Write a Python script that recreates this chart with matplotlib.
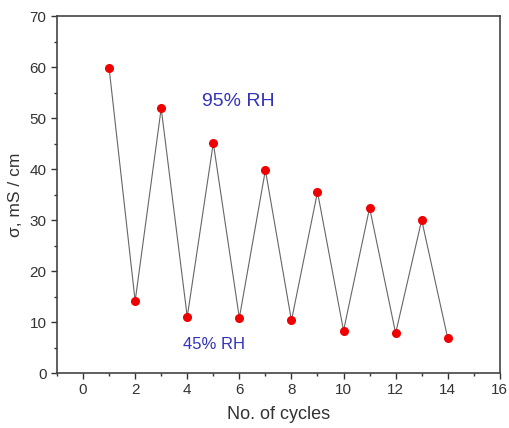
import matplotlib
matplotlib.use("Agg")
from matplotlib import pyplot as plt
from matplotlib.ticker import MultipleLocator

cycles = [1, 2, 3, 4, 5, 6, 7, 8, 9, 10, 11, 12, 13, 14]
sigma = [59.8, 14.1, 51.9, 11.0, 45.1, 10.8, 39.8, 10.3, 35.5, 8.3, 32.4, 7.8, 30.0, 6.8]

plt.rcParams["font.family"] = ["Liberation Sans", "DejaVu Sans"]

fig = plt.figure(figsize=(5.09, 4.28), dpi=100)
ax = fig.add_axes([0.112, 0.1285, 0.870, 0.834])

ax.plot(cycles, sigma, color="#666666", linewidth=0.8, zorder=2)
ax.plot(cycles, sigma, linestyle="none", marker="o", markersize=5.5,
        color="#f00000", zorder=3)

ax.set_xlim(-1, 16)
ax.set_ylim(0, 70)
ax.xaxis.set_major_locator(MultipleLocator(2))
ax.xaxis.set_minor_locator(MultipleLocator(1))
ax.yaxis.set_major_locator(MultipleLocator(10))
ax.yaxis.set_minor_locator(MultipleLocator(5))
ax.tick_params(which="both", direction="out", colors="#333333",
               labelcolor="#333333", labelsize=11)
ax.tick_params(which="major", length=4, width=1)
ax.tick_params(which="minor", length=2.5, width=1)
for side in ["left", "bottom", "top", "right"]:
    ax.spines[side].set_color("#444444")
    ax.spines[side].set_linewidth(1.2)

ax.set_xlabel("No. of cycles", fontsize=13, color="#333333", labelpad=6)
ax.set_ylabel("σ, mS / cm", fontsize=12.5, color="#333333", labelpad=5)

ax.text(5.96, 53.3, "95% RH", color="#3333bb", fontsize=14,
        ha="center", va="center")
ax.text(5.04, 5.5, "45% RH", color="#3333bb", fontsize=12,
        ha="center", va="center")

fig.savefig("out.png", dpi=100)
